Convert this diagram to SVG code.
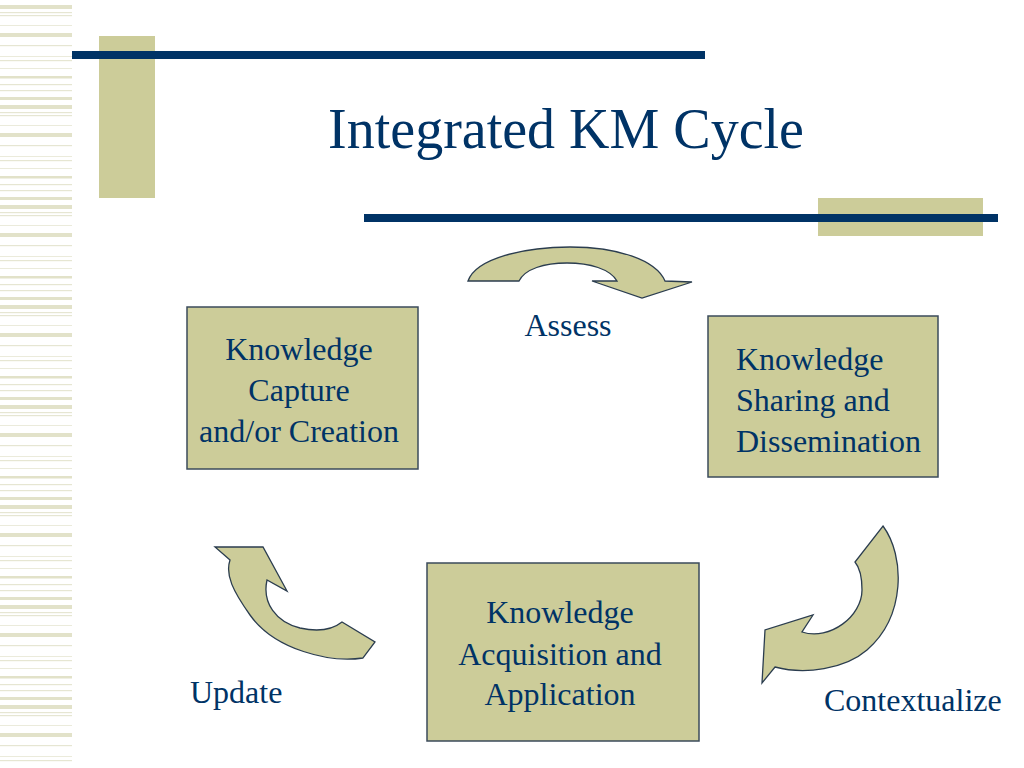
<svg xmlns="http://www.w3.org/2000/svg" width="1024" height="768" viewBox="0 0 1024 768">
<defs>
<pattern id="stripes" x="0" y="0" width="72" height="100" patternUnits="userSpaceOnUse">
<rect x="0" y="5" width="72" height="4" fill="#e2e2c9"/>
<rect x="0" y="12" width="72" height="1.2" fill="#e6e6d2"/>
<rect x="0" y="15" width="72" height="1.2" fill="#e6e6d2"/>
<rect x="0" y="25" width="72" height="1" fill="#ebebdb"/>
<rect x="0" y="33" width="72" height="4" fill="#e2e2c9"/>
<rect x="0" y="45" width="72" height="1.2" fill="#e6e6d2"/>
<rect x="0" y="56" width="72" height="1" fill="#ebebdb"/>
<rect x="0" y="60" width="72" height="1.2" fill="#e6e6d2"/>
<rect x="0" y="68" width="72" height="1" fill="#ebebdb"/>
<rect x="0" y="76" width="72" height="2.5" fill="#e2e2c9"/>
<rect x="0" y="84" width="72" height="1.2" fill="#e6e6d2"/>
<rect x="0" y="90" width="72" height="1.2" fill="#e6e6d2"/>
<rect x="0" y="97" width="72" height="3" fill="#e2e2c9"/>
</pattern>
</defs>
<style>
.box{fill:#cccc99;stroke:#3b4b5b;stroke-width:1.5}
.arr{fill:#cccc99;stroke:#2b3d4f;stroke-width:1.3;stroke-linejoin:miter}
text{font-family:'Liberation Serif','Times New Roman',Times,'DejaVu Serif',serif;fill:#003366}
.bt{font-size:32px}
.c{text-anchor:middle}
</style>
<rect x="0" y="0" width="1024" height="768" fill="#ffffff"/>
<rect x="0" y="0" width="72" height="768" fill="url(#stripes)"/>

<g id="title-decor">
<rect x="99" y="36" width="56" height="162" fill="#cccc99"/>
<rect x="72" y="51" width="633" height="8" fill="#003366"/>
<rect x="818" y="198" width="165" height="38" fill="#cccc99"/>
<rect x="364" y="214" width="634" height="8" fill="#003366"/>
</g>
<text id="title" class="c" x="566" y="148" font-size="56" font-family="Liberation Serif, serif">Integrated KM Cycle</text>

<g id="connectors">
<g id="arrow-assess">
<path class="arr" d="M468,281 C476,258 525,247 570,247 C618,247 656,260 665,281 L692,282 L642,298 L592,281 L617,281 C610,269 590,263 567,263 C544,263 525,269 519,281 Z"/>
<text class="bt c" x="568" y="336">Assess</text>
</g>
<g id="arrow-contextualize">
<path class="arr" d="M883,526 C905,556 906,616 867,650 C845,669 805,675 775,667 L762,683 L765,630 L813,615 L802,632 C830,641 862,616 862,590 C862,578 860,568 855,562 Z"/>
<text class="bt" x="824" y="711">Contextualize</text>
</g>
<g id="arrow-update">
<path class="arr" d="M215,547 L263,547 L287,591 L267,580 C262,603 276,622 300,628 C318,632 332,630 342,622 L375,642 L363,658 C330,663 275,650 250,615 C233,591 225,575 230,560 Z"/>
<text class="bt" x="190" y="703">Update</text>
</g>
</g>

<g id="node-capture">
<rect class="box" x="187" y="307" width="231" height="162"/>
<text class="bt c" x="299" y="360">Knowledge</text>
<text class="bt c" x="299" y="401">Capture</text>
<text class="bt c" x="299" y="442">and/or Creation</text>
</g>
<g id="node-sharing">
<rect class="box" x="708" y="316" width="230" height="161"/>
<text class="bt" x="736" y="370">Knowledge</text>
<text class="bt" x="736" y="411">Sharing and</text>
<text class="bt" x="736" y="452">Dissemination</text>
</g>
<g id="node-acquisition">
<rect class="box" x="427" y="563" width="272" height="178"/>
<text class="bt c" x="560" y="623">Knowledge</text>
<text class="bt c" x="560" y="665">Acquisition and</text>
<text class="bt c" x="560" y="705">Application</text>
</g>
</svg>
